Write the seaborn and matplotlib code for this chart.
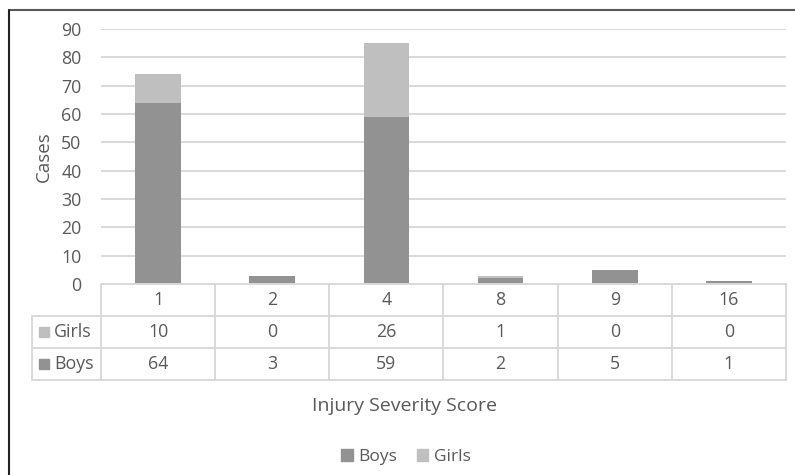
import matplotlib
matplotlib.use("Agg")
import matplotlib.pyplot as plt
import matplotlib.transforms as mtransforms
from matplotlib.lines import Line2D
from matplotlib.patches import Patch, Rectangle
import seaborn as sns
import pandas as pd

# Injury Severity Score categories and case counts
scores = ["1", "2", "4", "8", "9", "16"]
boys = [64, 3, 59, 2, 5, 1]
girls = [10, 0, 26, 1, 0, 0]
y_ticks = [0, 10, 20, 30, 40, 50, 60, 70, 80, 90]

BOYS_C = "#929292"
GIRLS_C = "#bfbfbf"
TEXT_C = "#595959"
GRID_C = "#d9d9d9"
FS = 12.8

sns.set_theme(style="white")
plt.rcParams["font.family"] = ["Open Sans", "DejaVu Sans"]

W, H = 795, 475
fig = plt.figure(figsize=(W / 100, H / 100), dpi=100)

def fx(x):
    return x / W

def fy(y):
    return 1 - y / H

ax_left, ax_right, ax_top, ax_bottom = 101, 786, 29, 284
ax = fig.add_axes([fx(ax_left), fy(ax_bottom), (ax_right - ax_left) / W, (ax_bottom - ax_top) / H])

df = pd.DataFrame({"score": scores, "Boys": boys, "Girls": girls})
df["total"] = df["Boys"] + df["Girls"]

# Stacked bars: total height in the girls colour, boys drawn over it
sns.barplot(data=df, x="score", y="total", color=GIRLS_C, width=0.4,
            saturation=1, ax=ax, zorder=3, linewidth=0)
sns.barplot(data=df, x="score", y="Boys", color=BOYS_C, width=0.4,
            saturation=1, ax=ax, zorder=4, linewidth=0)

ax.set_ylim(0, 90)
ax.set_xlim(-0.5, len(scores) - 0.5)
ax.set_yticks(y_ticks)
ax.set_yticklabels([str(t) for t in y_ticks], color=TEXT_C, fontsize=FS)
ax.tick_params(axis="y", length=0, pad=14)
ax.set_xticks([])
ax.set_xlabel("")
ax.set_ylabel("Cases", color=TEXT_C, fontsize=13.5, labelpad=6)
for s in ax.spines.values():
    s.set_visible(False)
for t in y_ticks[1:]:
    ax.axhline(t, color=GRID_C, lw=1.4, zorder=1)

# Data table below the plot
blend = mtransforms.blended_transform_factory(ax.transData, fig.transFigure)
row_edges = [284, 316, 348, 380]
key_left = 32
line_kw = dict(color=GRID_C, lw=1.4)

fig.add_artist(Line2D([fx(ax_left), fx(ax_right)], [fy(284), fy(284)], **line_kw))
for y in row_edges[1:]:
    fig.add_artist(Line2D([fx(key_left), fx(ax_right)], [fy(y), fy(y)], **line_kw))
fig.add_artist(Line2D([fx(key_left), fx(key_left)], [fy(316), fy(380)], **line_kw))
for i in range(len(scores) + 1):
    fig.add_artist(Line2D([i - 0.5, i - 0.5], [fy(284), fy(380)],
                          transform=blend, **line_kw))

row_centers = [(a + b) / 2 for a, b in zip(row_edges[:-1], row_edges[1:])]
for i, s in enumerate(scores):
    fig.text(i, fy(row_centers[0]), s, transform=blend, ha="center", va="center",
             color=TEXT_C, fontsize=FS)
    fig.text(i, fy(row_centers[1]), str(girls[i]), transform=blend, ha="center",
             va="center", color=TEXT_C, fontsize=FS)
    fig.text(i, fy(row_centers[2]), str(boys[i]), transform=blend, ha="center",
             va="center", color=TEXT_C, fontsize=FS)

for label, col, yc in [("Girls", GIRLS_C, row_centers[1]), ("Boys", BOYS_C, row_centers[2])]:
    fig.add_artist(Rectangle((fx(39), fy(yc + 5)), 10 / W, 10 / H, color=col,
                             transform=fig.transFigure))
    fig.text(fx(54), fy(yc), label, ha="left", va="center", color=TEXT_C, fontsize=FS)

fig.text(fx(405), fy(406), "Injury Severity Score", ha="center", va="center",
         color=TEXT_C, fontsize=14)

handles = [Patch(color=BOYS_C, label="Boys"), Patch(color=GIRLS_C, label="Girls")]
fig.legend(handles=handles, loc="center", bbox_to_anchor=(fx(406), fy(457)), ncol=2,
           frameon=False, fontsize=12.5, labelcolor=TEXT_C, handlelength=0.65,
           handleheight=0.65, handletextpad=0.35, columnspacing=1.1)

# Outer chart frame (top and left edges)
fig.add_artist(Line2D([fx(9), 1], [fy(10), fy(10)], color="#595959", lw=1.5))
fig.add_artist(Line2D([fx(9), fx(9)], [fy(10), 0], color="#222222", lw=1.5))

fig.savefig("out.png", dpi=100, facecolor="white")
